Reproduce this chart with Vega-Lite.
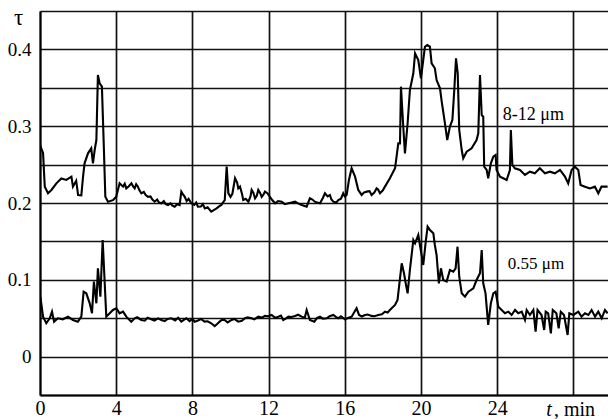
{
  "$schema": "https://vega.github.io/schema/vega-lite/v6.json",
  "width": 568,
  "height": 384,
  "autosize": {"type": "none"},
  "padding": {"left": 40, "top": 11, "right": 0, "bottom": 24},
  "background": "white",
  "config": {
    "font": "Liberation Serif",
    "view": {"stroke": null},
    "axis": {
      "gridColor": "#111111",
      "gridWidth": 1.7,
      "gridOpacity": 1,
      "domainColor": "#000000",
      "domainWidth": 2,
      "ticks": false,
      "labelColor": "#000000",
      "labelFont": "Liberation Serif"
    }
  },
  "datasets": {
    "curves": [
      {"s":"a","t":0,"v":0.2755},{"s":"a","t":0.16,"v":0.265},{"s":"a","t":0.25,"v":0.2213},{"s":"a","t":0.42,"v":0.2126},{"s":"a","t":0.6,"v":0.217},{"s":"a","t":0.86,"v":0.2256},{"s":"a","t":1.12,"v":0.232},{"s":"a","t":1.38,"v":0.23},{"s":"a","t":1.65,"v":0.2343},{"s":"a","t":1.73,"v":0.2213},{"s":"a","t":1.9,"v":0.229},{"s":"a","t":2.0,"v":0.2104},{"s":"a","t":2.17,"v":0.21},{"s":"a","t":2.26,"v":0.2343},{"s":"a","t":2.34,"v":0.2517},{"s":"a","t":2.52,"v":0.2647},{"s":"a","t":2.69,"v":0.2712},{"s":"a","t":2.78,"v":0.2517},{"s":"a","t":2.87,"v":0.269},{"s":"a","t":2.96,"v":0.282},{"s":"a","t":3.04,"v":0.3667},{"s":"a","t":3.13,"v":0.3559},{"s":"a","t":3.25,"v":0.3515},{"s":"a","t":3.34,"v":0.282},{"s":"a","t":3.43,"v":0.2082},{"s":"a","t":3.57,"v":0.2017},{"s":"a","t":3.83,"v":0.2037},{"s":"a","t":4.0,"v":0.208},{"s":"a","t":4.18,"v":0.2256},{"s":"a","t":4.36,"v":0.2213},{"s":"a","t":4.53,"v":0.219},{"s":"a","t":4.8,"v":0.2256},{"s":"a","t":4.97,"v":0.219},{"s":"a","t":5.14,"v":0.2213},{"s":"a","t":5.32,"v":0.2126},{"s":"a","t":5.67,"v":0.208},{"s":"a","t":6.02,"v":0.2017},{"s":"a","t":6.37,"v":0.1996},{"s":"a","t":6.72,"v":0.1974},{"s":"a","t":7.07,"v":0.1952},{"s":"a","t":7.33,"v":0.1974},{"s":"a","t":7.42,"v":0.2148},{"s":"a","t":7.6,"v":0.208},{"s":"a","t":7.94,"v":0.1996},{"s":"a","t":8.29,"v":0.1952},{"s":"a","t":8.65,"v":0.193},{"s":"a","t":8.99,"v":0.1887},{"s":"a","t":9.27,"v":0.193},{"s":"a","t":9.52,"v":0.1974},{"s":"a","t":9.7,"v":0.2037},{"s":"a","t":9.8,"v":0.2473},{"s":"a","t":9.89,"v":0.2126},{"s":"a","t":10.0,"v":0.208},{"s":"a","t":10.24,"v":0.2322},{"s":"a","t":10.41,"v":0.219},{"s":"a","t":10.5,"v":0.2213},{"s":"a","t":10.67,"v":0.2039},{"s":"a","t":10.94,"v":0.2017},{"s":"a","t":11.11,"v":0.217},{"s":"a","t":11.29,"v":0.2061},{"s":"a","t":11.46,"v":0.217},{"s":"a","t":11.64,"v":0.208},{"s":"a","t":11.81,"v":0.2148},{"s":"a","t":12.07,"v":0.208},{"s":"a","t":12.34,"v":0.1996},{"s":"a","t":12.69,"v":0.2017},{"s":"a","t":13.04,"v":0.1996},{"s":"a","t":13.39,"v":0.2017},{"s":"a","t":13.74,"v":0.1974},{"s":"a","t":14.0,"v":0.1952},{"s":"a","t":14.17,"v":0.2061},{"s":"a","t":14.43,"v":0.2017},{"s":"a","t":14.7,"v":0.1996},{"s":"a","t":14.96,"v":0.2126},{"s":"a","t":15.22,"v":0.2104},{"s":"a","t":15.4,"v":0.2017},{"s":"a","t":15.66,"v":0.2039},{"s":"a","t":15.92,"v":0.2126},{"s":"a","t":16.1,"v":0.2104},{"s":"a","t":16.22,"v":0.23},{"s":"a","t":16.36,"v":0.2452},{"s":"a","t":16.54,"v":0.2343},{"s":"a","t":16.71,"v":0.217},{"s":"a","t":16.89,"v":0.2104},{"s":"a","t":17.15,"v":0.2148},{"s":"a","t":17.41,"v":0.2104},{"s":"a","t":17.67,"v":0.219},{"s":"a","t":17.85,"v":0.2126},{"s":"a","t":18.11,"v":0.2213},{"s":"a","t":18.37,"v":0.2322},{"s":"a","t":18.64,"v":0.2452},{"s":"a","t":18.72,"v":0.2603},{"s":"a","t":18.81,"v":0.2777},{"s":"a","t":18.9,"v":0.2777},{"s":"a","t":18.95,"v":0.3515},{"s":"a","t":19.07,"v":0.3},{"s":"a","t":19.16,"v":0.2647},{"s":"a","t":19.3,"v":0.3038},{"s":"a","t":19.42,"v":0.3471},{"s":"a","t":19.6,"v":0.3689},{"s":"a","t":19.69,"v":0.3949},{"s":"a","t":19.86,"v":0.3862},{"s":"a","t":20.0,"v":0.3623},{"s":"a","t":20.12,"v":0.3862},{"s":"a","t":20.21,"v":0.4035},{"s":"a","t":20.33,"v":0.4057},{"s":"a","t":20.47,"v":0.4035},{"s":"a","t":20.56,"v":0.3819},{"s":"a","t":20.73,"v":0.3754},{"s":"a","t":20.82,"v":0.3601},{"s":"a","t":21.0,"v":0.3493},{"s":"a","t":21.09,"v":0.3319},{"s":"a","t":21.26,"v":0.3038},{"s":"a","t":21.38,"v":0.282},{"s":"a","t":21.52,"v":0.2994},{"s":"a","t":21.65,"v":0.3081},{"s":"a","t":21.75,"v":0.3471},{"s":"a","t":21.84,"v":0.3884},{"s":"a","t":21.93,"v":0.3688},{"s":"a","t":22.01,"v":0.295},{"s":"a","t":22.14,"v":0.269},{"s":"a","t":22.22,"v":0.2582},{"s":"a","t":22.4,"v":0.2668},{"s":"a","t":22.66,"v":0.2712},{"s":"a","t":22.92,"v":0.282},{"s":"a","t":23.01,"v":0.2907},{"s":"a","t":23.1,"v":0.3667},{"s":"a","t":23.19,"v":0.3146},{"s":"a","t":23.27,"v":0.3124},{"s":"a","t":23.32,"v":0.2473},{"s":"a","t":23.45,"v":0.243},{"s":"a","t":23.53,"v":0.2322},{"s":"a","t":23.67,"v":0.2517},{"s":"a","t":23.8,"v":0.2603},{"s":"a","t":23.92,"v":0.2625},{"s":"a","t":23.97,"v":0.243},{"s":"a","t":24.15,"v":0.2343},{"s":"a","t":24.32,"v":0.2322},{"s":"a","t":24.5,"v":0.23},{"s":"a","t":24.67,"v":0.243},{"s":"a","t":24.72,"v":0.295},{"s":"a","t":24.8,"v":0.2495},{"s":"a","t":24.93,"v":0.2452},{"s":"a","t":25.2,"v":0.243},{"s":"a","t":25.46,"v":0.2365},{"s":"a","t":25.72,"v":0.2408},{"s":"a","t":25.98,"v":0.2387},{"s":"a","t":26.24,"v":0.2452},{"s":"a","t":26.51,"v":0.2387},{"s":"a","t":26.77,"v":0.2408},{"s":"a","t":27.03,"v":0.2387},{"s":"a","t":27.3,"v":0.243},{"s":"a","t":27.56,"v":0.2343},{"s":"a","t":27.73,"v":0.2256},{"s":"a","t":27.91,"v":0.243},{"s":"a","t":28.08,"v":0.2473},{"s":"a","t":28.26,"v":0.243},{"s":"a","t":28.38,"v":0.2234},{"s":"a","t":28.61,"v":0.2213},{"s":"a","t":28.87,"v":0.219},{"s":"a","t":29.13,"v":0.2213},{"s":"a","t":29.31,"v":0.2126},{"s":"a","t":29.48,"v":0.2213},{"s":"a","t":29.8,"v":0.2213},
      {"s":"a","t":4.1,"v":0.218},{"s":"a","t":4.27,"v":0.2235},{"s":"a","t":4.45,"v":0.225},{"s":"a","t":4.65,"v":0.2215},{"s":"a","t":4.88,"v":0.222},{"s":"a","t":5.05,"v":0.2245},{"s":"a","t":5.22,"v":0.2165},{"s":"a","t":5.45,"v":0.2145},{"s":"a","t":5.55,"v":0.2105},{"s":"a","t":5.8,"v":0.2085},{"s":"a","t":5.9,"v":0.2045},{"s":"a","t":6.15,"v":0.2045},{"s":"a","t":6.25,"v":0.2005},{"s":"a","t":6.5,"v":0.2025},{"s":"a","t":6.6,"v":0.1985},{"s":"a","t":6.85,"v":0.1995},{"s":"a","t":6.95,"v":0.1965},{"s":"a","t":7.2,"v":0.1985},{"s":"a","t":7.5,"v":0.2115},{"s":"a","t":7.7,"v":0.2025},{"s":"a","t":7.8,"v":0.2055},{"s":"a","t":8.1,"v":0.1975},{"s":"a","t":8.2,"v":0.2005},{"s":"a","t":8.45,"v":0.1955},{"s":"a","t":8.55,"v":0.1985},{"s":"a","t":8.8,"v":0.1945},{"s":"a","t":9.1,"v":0.1905},{"s":"a","t":9.4,"v":0.1955},{"s":"a","t":9.6,"v":0.2005},
      {"s":"a","t":10.1,"v":0.212},{"s":"a","t":10.35,"v":0.2265},{"s":"a","t":10.6,"v":0.2125},{"s":"a","t":10.8,"v":0.2055},{"s":"a","t":11.05,"v":0.2085},{"s":"a","t":11.2,"v":0.2135},{"s":"a","t":11.38,"v":0.2095},{"s":"a","t":11.55,"v":0.2135},{"s":"a","t":11.72,"v":0.2105},{"s":"a","t":11.95,"v":0.2125},{"s":"a","t":12.2,"v":0.2035},{"s":"a","t":12.5,"v":0.2025},{"s":"a","t":12.85,"v":0.1985},{"s":"a","t":13.2,"v":0.2005},{"s":"a","t":13.55,"v":0.1995},{"s":"a","t":13.85,"v":0.1965},{"s":"a","t":14.3,"v":0.2045},{"s":"a","t":14.55,"v":0.2005},{"s":"a","t":14.85,"v":0.2065},{"s":"a","t":15.1,"v":0.2085},{"s":"a","t":15.3,"v":0.2045},{"s":"a","t":15.55,"v":0.2005},{"s":"a","t":15.8,"v":0.2055},{"s":"a","t":16.0,"v":0.2085},{"s":"a","t":17.0,"v":0.2135},{"s":"a","t":17.3,"v":0.2155},{"s":"a","t":17.55,"v":0.2135},{"s":"a","t":17.75,"v":0.2175},{"s":"a","t":18.0,"v":0.2165},
      {"s":"b","t":0.0,"v":0.078},{"s":"b","t":0.03,"v":0.0759},{"s":"b","t":0.16,"v":0.052},{"s":"b","t":0.33,"v":0.0434},{"s":"b","t":0.51,"v":0.0499},{"s":"b","t":0.63,"v":0.0585},{"s":"b","t":0.74,"v":0.0455},{"s":"b","t":0.94,"v":0.0499},{"s":"b","t":1.2,"v":0.0486},{"s":"b","t":1.47,"v":0.052},{"s":"b","t":1.73,"v":0.0477},{"s":"b","t":1.99,"v":0.0455},{"s":"b","t":2.17,"v":0.052},{"s":"b","t":2.29,"v":0.0845},{"s":"b","t":2.43,"v":0.0824},{"s":"b","t":2.61,"v":0.0694},{"s":"b","t":2.73,"v":0.0564},{"s":"b","t":2.83,"v":0.0976},{"s":"b","t":2.96,"v":0.0694},{"s":"b","t":3.04,"v":0.115},{"s":"b","t":3.17,"v":0.078},{"s":"b","t":3.29,"v":0.1518},{"s":"b","t":3.39,"v":0.0997},{"s":"b","t":3.48,"v":0.052},{"s":"b","t":3.66,"v":0.0564},{"s":"b","t":3.83,"v":0.0607},{"s":"b","t":4.01,"v":0.0629},{"s":"b","t":4.18,"v":0.0564},{"s":"b","t":4.36,"v":0.0585},{"s":"b","t":4.53,"v":0.052},{"s":"b","t":4.79,"v":0.0455},{"s":"b","t":4.97,"v":0.0499},{"s":"b","t":5.32,"v":0.0477},{"s":"b","t":5.84,"v":0.0486},{"s":"b","t":6.37,"v":0.0477},{"s":"b","t":6.89,"v":0.0499},{"s":"b","t":7.42,"v":0.0455},{"s":"b","t":7.68,"v":0.0499},{"s":"b","t":8.12,"v":0.0455},{"s":"b","t":8.64,"v":0.0455},{"s":"b","t":8.99,"v":0.0434},{"s":"b","t":9.17,"v":0.0398},{"s":"b","t":9.43,"v":0.0455},{"s":"b","t":9.69,"v":0.0477},{"s":"b","t":10.06,"v":0.0477},{"s":"b","t":10.41,"v":0.0455},{"s":"b","t":10.76,"v":0.0499},{"s":"b","t":11.11,"v":0.0499},{"s":"b","t":11.46,"v":0.052},{"s":"b","t":11.81,"v":0.053},{"s":"b","t":12.16,"v":0.0542},{"s":"b","t":12.51,"v":0.052},{"s":"b","t":12.77,"v":0.0477},{"s":"b","t":13.04,"v":0.052},{"s":"b","t":13.39,"v":0.053},{"s":"b","t":13.74,"v":0.052},{"s":"b","t":14.0,"v":0.0607},{"s":"b","t":14.17,"v":0.0477},{"s":"b","t":14.4,"v":0.0455},{"s":"b","t":14.7,"v":0.052},{"s":"b","t":15.05,"v":0.0499},{"s":"b","t":15.4,"v":0.0542},{"s":"b","t":15.66,"v":0.0499},{"s":"b","t":16.01,"v":0.0486},{"s":"b","t":16.36,"v":0.052},{"s":"b","t":16.62,"v":0.0629},{"s":"b","t":16.75,"v":0.0542},{"s":"b","t":17.06,"v":0.0542},{"s":"b","t":17.41,"v":0.053},{"s":"b","t":17.76,"v":0.0542},{"s":"b","t":18.11,"v":0.0585},{"s":"b","t":18.37,"v":0.0607},{"s":"b","t":18.64,"v":0.0672},{"s":"b","t":18.77,"v":0.0737},{"s":"b","t":18.85,"v":0.091},{"s":"b","t":18.99,"v":0.1215},{"s":"b","t":19.11,"v":0.1085},{"s":"b","t":19.2,"v":0.0954},{"s":"b","t":19.3,"v":0.0824},{"s":"b","t":19.42,"v":0.1128},{"s":"b","t":19.6,"v":0.1518},{"s":"b","t":19.69,"v":0.1475},{"s":"b","t":19.86,"v":0.1583},{"s":"b","t":19.99,"v":0.1388},{"s":"b","t":20.12,"v":0.1193},{"s":"b","t":20.26,"v":0.1518},{"s":"b","t":20.35,"v":0.1692},{"s":"b","t":20.47,"v":0.1649},{"s":"b","t":20.65,"v":0.1605},{"s":"b","t":20.73,"v":0.1453},{"s":"b","t":20.82,"v":0.1323},{"s":"b","t":20.94,"v":0.0954},{"s":"b","t":21.05,"v":0.115},{"s":"b","t":21.17,"v":0.0997},{"s":"b","t":21.35,"v":0.0976},{"s":"b","t":21.52,"v":0.1128},{"s":"b","t":21.7,"v":0.1106},{"s":"b","t":21.82,"v":0.115},{"s":"b","t":21.92,"v":0.1431},{"s":"b","t":22.01,"v":0.104},{"s":"b","t":22.14,"v":0.0824},{"s":"b","t":22.31,"v":0.078},{"s":"b","t":22.49,"v":0.0845},{"s":"b","t":22.75,"v":0.0889},{"s":"b","t":22.92,"v":0.0997},{"s":"b","t":23.1,"v":0.1085},{"s":"b","t":23.19,"v":0.1388},{"s":"b","t":23.27,"v":0.0954},{"s":"b","t":23.39,"v":0.0824},{"s":"b","t":23.53,"v":0.0412},{"s":"b","t":23.67,"v":0.0694},{"s":"b","t":23.8,"v":0.0824},{"s":"b","t":23.92,"v":0.0845},{"s":"b","t":24.06,"v":0.065},{"s":"b","t":24.24,"v":0.0607},{"s":"b","t":24.41,"v":0.0564},{"s":"b","t":24.59,"v":0.0585},{"s":"b","t":24.76,"v":0.0542},{"s":"b","t":24.94,"v":0.0607},{"s":"b","t":25.11,"v":0.0564},{"s":"b","t":25.29,"v":0.0585},{"s":"b","t":25.46,"v":0.0477},{"s":"b","t":25.55,"v":0.0607},{"s":"b","t":25.72,"v":0.0542},{"s":"b","t":25.9,"v":0.0607},{"s":"b","t":26.02,"v":0.0325},{"s":"b","t":26.12,"v":0.0607},{"s":"b","t":26.33,"v":0.0542},{"s":"b","t":26.47,"v":0.0347},{"s":"b","t":26.55,"v":0.0585},{"s":"b","t":26.68,"v":0.0564},{"s":"b","t":26.82,"v":0.0303},{"s":"b","t":26.92,"v":0.0607},{"s":"b","t":27.11,"v":0.0564},{"s":"b","t":27.23,"v":0.0369},{"s":"b","t":27.34,"v":0.0585},{"s":"b","t":27.51,"v":0.0542},{"s":"b","t":27.7,"v":0.0282},{"s":"b","t":27.79,"v":0.0564},{"s":"b","t":28.0,"v":0.0542},{"s":"b","t":28.26,"v":0.0585},{"s":"b","t":28.43,"v":0.052},{"s":"b","t":28.61,"v":0.0564},{"s":"b","t":28.79,"v":0.0542},{"s":"b","t":28.96,"v":0.0607},{"s":"b","t":29.14,"v":0.052},{"s":"b","t":29.31,"v":0.0585},{"s":"b","t":29.49,"v":0.0499},{"s":"b","t":29.66,"v":0.0607},{"s":"b","t":29.8,"v":0.0564},
      {"s":"b","t":5.1,"v":0.0512},{"s":"b","t":5.5,"v":0.0468},{"s":"b","t":5.65,"v":0.0505},{"s":"b","t":6.0,"v":0.047},{"s":"b","t":6.2,"v":0.0498},{"s":"b","t":6.55,"v":0.0462},{"s":"b","t":6.7,"v":0.049},{"s":"b","t":7.1,"v":0.047},{"s":"b","t":7.25,"v":0.0505},{"s":"b","t":7.55,"v":0.0478},{"s":"b","t":7.85,"v":0.0462},{"s":"b","t":8.0,"v":0.049},{"s":"b","t":8.3,"v":0.047},{"s":"b","t":8.45,"v":0.049},{"s":"b","t":8.8,"v":0.046},{"s":"b","t":9.3,"v":0.0425},{"s":"b","t":9.55,"v":0.048},{"s":"b","t":9.85,"v":0.0445},{"s":"b","t":10.2,"v":0.049},{"s":"b","t":10.6,"v":0.0465},{"s":"b","t":10.9,"v":0.0512},{"s":"b","t":11.25,"v":0.0485},{"s":"b","t":11.65,"v":0.0508},{"s":"b","t":12.0,"v":0.0525},{"s":"b","t":12.35,"v":0.0505},{"s":"b","t":12.65,"v":0.0535},{"s":"b","t":12.9,"v":0.0495},{"s":"b","t":13.2,"v":0.0515},{"s":"b","t":13.55,"v":0.0545},{"s":"b","t":13.9,"v":0.0505},{"s":"b","t":14.55,"v":0.0505},{"s":"b","t":14.85,"v":0.0495},{"s":"b","t":15.2,"v":0.0525},{"s":"b","t":15.55,"v":0.0515},{"s":"b","t":15.8,"v":0.0525},{"s":"b","t":16.2,"v":0.0505},{"s":"b","t":16.9,"v":0.0522},{"s":"b","t":17.2,"v":0.0548},{"s":"b","t":17.55,"v":0.0525},{"s":"b","t":17.95,"v":0.0552},{"s":"b","t":18.25,"v":0.0575}
    ],
    "labels": [
      {"k": "ir", "t": 25.9, "v": 0.3146, "label": "8-12 μm"},
      {"k": "vis", "t": 26.04, "v": 0.1206, "label": "0.55 μm"},
      {"k": "tt", "t": 26.72, "v": -0.0695, "label": "t"},
      {"k": "min", "t": 26.98, "v": -0.0695, "label": ", min"}
    ]
  },
  "encoding": {
    "x": {
      "field": "t", "type": "quantitative",
      "scale": {"domain": [0, 29.82], "nice": false, "zero": false},
      "axis": {
        "values": [0, 4, 8, 12, 16, 20, 24, 28],
        "labelExpr": "datum.value > 26 ? '' : datum.label",
        "title": null,
        "grid": true,
        "labelFontSize": 20,
        "labelPadding": 3,
        "labelFlush": false,
        "labelOverlap": false
      }
    },
    "y": {
      "field": "v", "type": "quantitative",
      "scale": {"domain": [-0.05, 0.45], "nice": false, "zero": false},
      "axis": {
        "tickCount": 10,
        "labelExpr": "(datum.value > -0.001 && abs(datum.value * 10 - round(datum.value * 10)) < 0.01) ? format(datum.value, '.1~f') : ''",
        "grid": true,
        "labelFontSize": 19,
        "labelPadding": 9,
        "labelFlush": false,
        "labelOverlap": false,
        "title": "τ",
        "titleAngle": 0,
        "titleFontSize": 23,
        "titleFontWeight": "normal",
        "titleFont": "Liberation Serif",
        "titleAlign": "center",
        "titleBaseline": "middle",
        "titleX": -22,
        "titleY": 6
      }
    }
  },
  "layer": [
    {
      "data": {"name": "curves"},
      "mark": {"type": "line", "color": "#000000", "strokeWidth": 2.1, "strokeJoin": "miter", "clip": true},
      "encoding": {
        "detail": {"field": "s", "type": "nominal"}
      }
    },
    {
      "data": {"name": "labels"},
      "transform": [{"filter": "datum.k == 'ir'"}],
      "mark": {"type": "text", "font": "Liberation Serif", "fontSize": 18, "color": "#000000", "align": "center", "baseline": "middle"},
      "encoding": {"text": {"field": "label"}}
    },
    {
      "data": {"name": "labels"},
      "transform": [{"filter": "datum.k == 'vis'"}],
      "mark": {"type": "text", "font": "Liberation Serif", "fontSize": 17, "color": "#000000", "align": "center", "baseline": "middle"},
      "encoding": {"text": {"field": "label"}}
    },
    {
      "data": {"name": "labels"},
      "transform": [{"filter": "datum.k == 'tt'"}],
      "mark": {"type": "text", "font": "Liberation Serif", "fontSize": 20, "fontStyle": "italic", "color": "#000000", "align": "center", "baseline": "middle"},
      "encoding": {"text": {"field": "label"}}
    },
    {
      "data": {"name": "labels"},
      "transform": [{"filter": "datum.k == 'min'"}],
      "mark": {"type": "text", "font": "Liberation Serif", "fontSize": 20, "color": "#000000", "align": "left", "baseline": "middle"},
      "encoding": {"text": {"field": "label"}}
    }
  ]
}
